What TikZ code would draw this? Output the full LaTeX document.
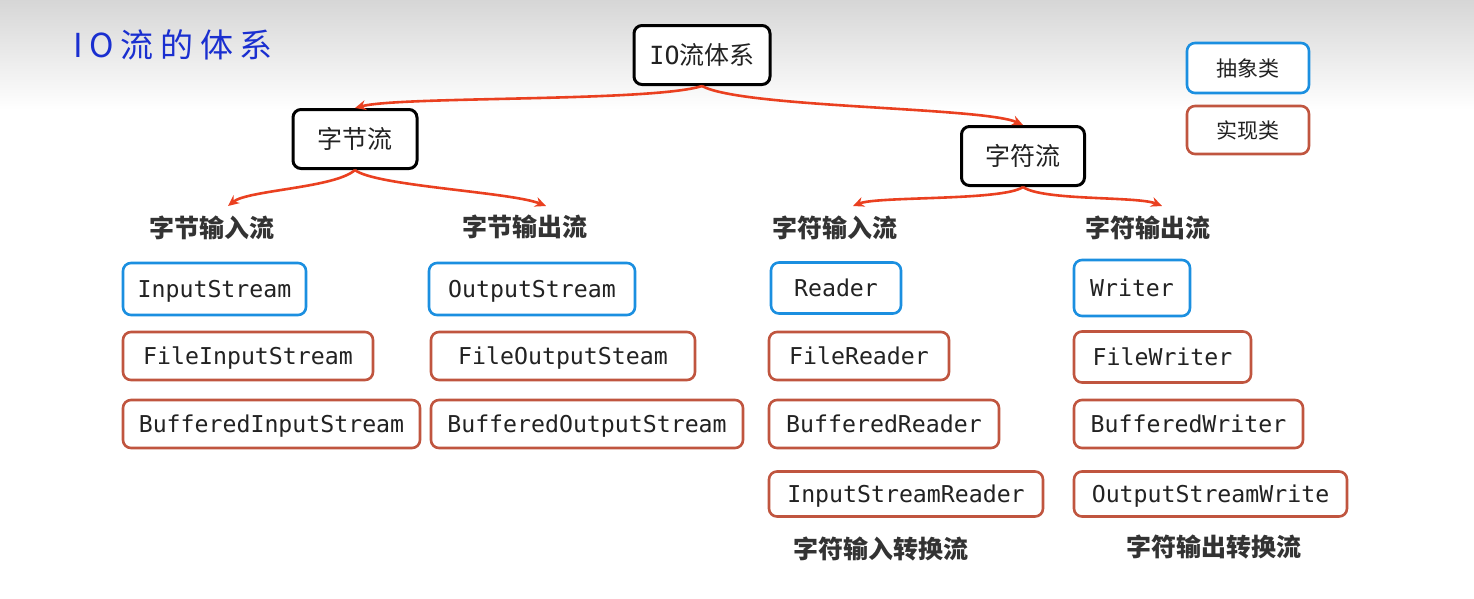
\documentclass[tikz,border=0pt]{standalone}
\usepackage{fontspec}
\setmainfont{Noto Sans CJK SC}
\setmonofont{DejaVu Sans Mono}
\newfontfamily\titlefont[LetterSpace=20]{Noto Sans CJK SC}
\usetikzlibrary{arrows.meta}
\definecolor{absblue}{HTML}{1B8FE0}
\definecolor{implred}{HTML}{C0553F}
\definecolor{arrred}{HTML}{EA4020}
\definecolor{titleblue}{HTML}{1A2FD0}
\definecolor{txt}{HTML}{222222}
\begin{document}
\begin{tikzpicture}[x=1pt,y=-1pt,
  rootbox/.style={draw=black,line width=3pt,rounded corners=8pt,fill=white,text=txt,font=\fontsize{25}{27}\selectfont,minimum height=59pt,inner xsep=10pt},
  absbox/.style={draw=absblue,line width=2.6pt,rounded corners=8pt,fill=white,text=txt,font=\ttfamily\fontsize{23.2}{25}\selectfont,minimum height=52pt,inner xsep=8pt,text height=18pt,text depth=1.5pt},
  implbox/.style={draw=implred,line width=2.6pt,rounded corners=8pt,fill=white,text=txt,font=\ttfamily\fontsize{23.2}{25}\selectfont,minimum height=48pt,inner xsep=8pt,text height=18pt,text depth=1.5pt},
  legabs/.style={draw=absblue,line width=2.6pt,rounded corners=8pt,fill=white,text=txt,font=\fontsize{21}{23}\selectfont,minimum width=122pt,minimum height=50pt},
  legimpl/.style={draw=implred,line width=2.6pt,rounded corners=8pt,fill=white,text=txt,font=\fontsize{21}{23}\selectfont,minimum width=122pt,minimum height=48pt},
  grouplbl/.style={text=black!80,font=\bfseries\fontsize{25}{27}\selectfont},
  conn/.style={draw=arrred,line width=2.6pt,-{Stealth[length=11pt,width=10pt]}}
]
\useasboundingbox (0,0) rectangle (1474,598);
\fill[white] (0,0) rectangle (1474,598);
\shade[top color=black!16,bottom color=white] (0,0) rectangle (1474,110);

\node[text=titleblue,font=\titlefont\fontsize{33}{35}\selectfont,anchor=west] (title) at (70,45) {IO流的体系};

\node[rootbox,minimum width=136pt] (io) at (702,55) {\texttt{IO}流体系};
\node[rootbox,minimum width=124pt] (byte) at (355,139) {字节流};
\node[rootbox,minimum width=123pt] (char) at (1023,156) {字符流};

\node[legabs] (legA) at (1248,68) {抽象类};
\node[legimpl] (legI) at (1248,130) {实现类};

\node[grouplbl] (bin) at (212,228) {字节输入流};
\node[grouplbl] (bout) at (525,227) {字节输出流};
\node[grouplbl] (cin) at (835,228) {字符输入流};
\node[grouplbl] (cout) at (1148,228) {字符输出流};

\coordinate (binT) at (228,206);
\coordinate (boutT) at (546,206);
\coordinate (cinT) at (853,206);
\coordinate (coutT) at (1162,206);

\node[absbox,minimum width=183pt] (is) at (214.5,289) {InputStream};
\node[implbox,minimum width=250pt] (fis) at (248,356) {FileInputStream};
\node[implbox,minimum width=297pt] (bis) at (271.5,424) {BufferedInputStream};

\node[absbox,minimum width=206pt] (os) at (532,289) {OutputStream};
\node[implbox,minimum width=264pt] (fos) at (563,356) {FileOutputSteam};
\node[implbox,minimum width=312pt] (bos) at (587,424) {BufferedOutputStream};

\node[absbox,minimum width=130pt,minimum height=51pt] (rd) at (836,288) {Reader};
\node[implbox,minimum width=180pt] (frd) at (859,356) {FileReader};
\node[implbox,minimum width=230pt] (brd) at (884,424) {BufferedReader};
\node[implbox,minimum width=274pt,minimum height=45pt] (isr) at (906,494) {InputStreamReader};

\node[absbox,minimum width=116pt,minimum height=56pt] (wr) at (1132,288) {Writer};
\node[implbox,minimum width=177pt,minimum height=51pt] (fwr) at (1162.5,357) {FileWriter};
\node[implbox,minimum width=229pt] (bwr) at (1188.5,424) {BufferedWriter};
\node[implbox,minimum width=273pt,minimum height=45pt] (osw) at (1210.5,494) {OutputStreamWrite};

\node[grouplbl] (cinconv) at (881,549) {字符输入转换流};
\node[grouplbl] (coutconv) at (1214,547) {字符输出转换流};

\draw[conn] (io.south) .. controls +(-50,16) and +(45,-12) .. (byte.north);
\draw[conn] (io.south) .. controls +(40,22) and +(-40,-18) .. (char.north);
\draw[conn] (byte.south) .. controls +(-20,18) and +(20,-16) .. (binT);
\draw[conn] (byte.south) .. controls +(20,16) and +(-35,-14) .. (boutT);
\draw[conn] (char.south) .. controls +(-20,14) and +(25,-10) .. (cinT);
\draw[conn] (char.south) .. controls +(20,14) and +(-25,-10) .. (coutT);
\end{tikzpicture}
\end{document}
